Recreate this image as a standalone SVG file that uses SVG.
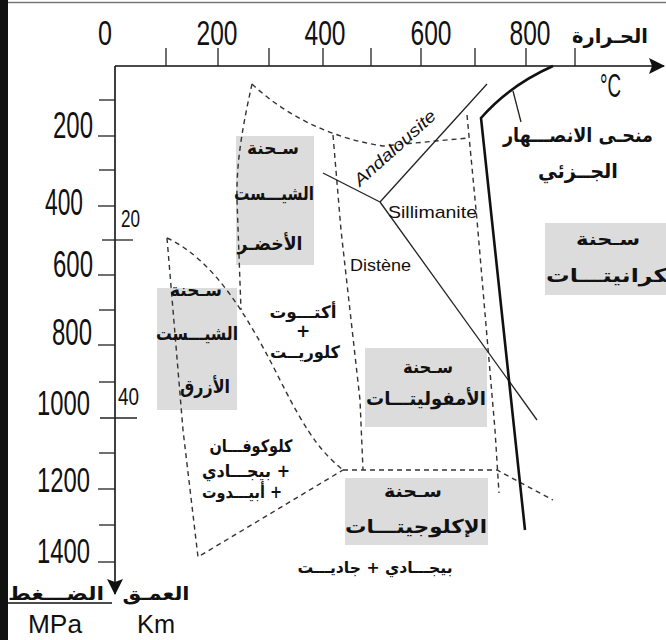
<svg xmlns="http://www.w3.org/2000/svg" width="666" height="640" viewBox="0 0 666 640">
  <style>
    .ax { stroke: #111; stroke-width: 1.6; fill: none; }
    .tick { stroke: #222; stroke-width: 1.3; }
    .dash { stroke: #333; stroke-width: 1.4; fill: none; stroke-dasharray: 5 4; }
    .solid { stroke: #222; stroke-width: 1.3; fill: none; }
    .box { fill: #dcdcdc; }
    .num { font-family: "Liberation Sans", Arial, sans-serif; fill: #111; }
    .lat { font-family: "Liberation Sans", Arial, sans-serif; fill: #111; }
    .ar { font-family: "DejaVu Sans", sans-serif; font-weight: bold; fill: #111; text-anchor: middle; }
  </style>
  <defs>
    <marker id="arrowR" markerWidth="16" markerHeight="16" refX="15" refY="8" orient="auto" markerUnits="userSpaceOnUse">
      <path d="M0,0 L16,8 L0,16 L3,8 Z" fill="#111"/>
    </marker>
  </defs>

  <!-- frame -->
  <rect x="0" y="0" width="8" height="640" fill="#111"/>
  <line x1="8" y1="2.5" x2="666" y2="2.5" stroke="#777" stroke-width="1.5"/>

  <!-- grey facies panels -->
  <g id="panels">
    <rect class="box" x="236" y="136" width="78" height="129"/>
    <rect class="box" x="157" y="288" width="80" height="122"/>
    <rect class="box" x="365" y="348" width="122" height="79"/>
    <rect class="box" x="345" y="478" width="143" height="67"/>
    <rect class="box" x="545" y="223" width="121" height="72"/>
  </g>

  <!-- axes -->
  <g id="axes">
    <line class="ax" x1="115" y1="66" x2="664" y2="66" marker-end="url(#arrowR)"/>
    <line class="ax" x1="115" y1="66" x2="115" y2="594" marker-end="url(#arrowR)"/>
    <!-- temperature ticks -->
    <g class="tick">
      <line x1="166" y1="48" x2="166" y2="66"/>
      <line x1="218" y1="48" x2="218" y2="66"/>
      <line x1="269" y1="48" x2="269" y2="66"/>
      <line x1="323" y1="48" x2="323" y2="66"/>
      <line x1="371" y1="48" x2="371" y2="66"/>
      <line x1="421" y1="48" x2="421" y2="66"/>
      <line x1="475" y1="48" x2="475" y2="66"/>
      <line x1="526" y1="48" x2="526" y2="66"/>
      <line x1="575" y1="48" x2="575" y2="66"/>
    </g>
    <!-- pressure ticks -->
    <g class="tick">
      <line x1="99" y1="100" x2="115" y2="100"/>
      <line x1="98" y1="136" x2="115" y2="136"/>
      <line x1="99" y1="170" x2="115" y2="170"/>
      <line x1="98" y1="206" x2="115" y2="206"/>
      <line x1="102" y1="240" x2="133" y2="240"/>
      <line x1="98" y1="275" x2="115" y2="275"/>
      <line x1="99" y1="310" x2="115" y2="310"/>
      <line x1="98" y1="345" x2="115" y2="345"/>
      <line x1="99" y1="382" x2="115" y2="382"/>
      <line x1="100" y1="418" x2="137" y2="418"/>
      <line x1="99" y1="453" x2="115" y2="453"/>
      <line x1="98" y1="489" x2="115" y2="489"/>
      <line x1="99" y1="525" x2="115" y2="525"/>
      <line x1="98" y1="562" x2="115" y2="562"/>
    </g>
    <line x1="8" y1="603" x2="112" y2="603" stroke="#111" stroke-width="1.3"/>
  </g>

  <!-- axis labels -->
  <g id="axis-labels">
    <text class="num" x="105" y="45" font-size="35" text-anchor="middle" textLength="14" lengthAdjust="spacingAndGlyphs">0</text>
    <text class="num" x="217" y="45" font-size="35" text-anchor="middle" textLength="41" lengthAdjust="spacingAndGlyphs">200</text>
    <text class="num" x="325" y="45" font-size="35" text-anchor="middle" textLength="41" lengthAdjust="spacingAndGlyphs">400</text>
    <text class="num" x="431" y="45" font-size="35" text-anchor="middle" textLength="41" lengthAdjust="spacingAndGlyphs">600</text>
    <text class="num" x="530" y="45" font-size="35" text-anchor="middle" textLength="41" lengthAdjust="spacingAndGlyphs">800</text>

    <text class="num" x="53" y="138" font-size="37" textLength="40" lengthAdjust="spacingAndGlyphs">200</text>
    <text class="num" x="45" y="215" font-size="37" textLength="38" lengthAdjust="spacingAndGlyphs">400</text>
    <text class="num" x="53" y="277" font-size="37" textLength="40" lengthAdjust="spacingAndGlyphs">600</text>
    <text class="num" x="52" y="345" font-size="37" textLength="40" lengthAdjust="spacingAndGlyphs">800</text>
    <text class="num" x="37" y="415" font-size="35" textLength="53" lengthAdjust="spacingAndGlyphs">1000</text>
    <text class="num" x="37" y="492" font-size="35" textLength="53" lengthAdjust="spacingAndGlyphs">1200</text>
    <text class="num" x="37" y="563" font-size="35" textLength="53" lengthAdjust="spacingAndGlyphs">1400</text>

    <text class="num" x="121" y="227" font-size="24" textLength="19" lengthAdjust="spacingAndGlyphs">20</text>
    <text class="num" x="118" y="405" font-size="24" textLength="21" lengthAdjust="spacingAndGlyphs">40</text>

    <text class="num" x="600" y="97" font-size="34" textLength="21" lengthAdjust="spacingAndGlyphs">°C</text>
    <text class="ar" x="610" y="43" font-size="20" textLength="76" lengthAdjust="spacingAndGlyphs">الحـرارة</text>

    <text class="ar" x="156" y="600" font-size="19" textLength="67" lengthAdjust="spacingAndGlyphs">العمـق</text>
    <text class="ar" x="56" y="600" font-size="19" textLength="96" lengthAdjust="spacingAndGlyphs">الضـــغط</text>
    <text class="lat" x="28" y="633" font-size="26" textLength="54" lengthAdjust="spacingAndGlyphs">MPa</text>
    <text class="lat" x="137" y="633" font-size="26" textLength="38" lengthAdjust="spacingAndGlyphs">Km</text>
  </g>

  <!-- facies boundaries and reaction curves -->
  <g id="connectors">
    <!-- blueschist field -->
    <path class="dash" d="M167,238 C215,260 250,320 280,380 S325,455 343,470"/>
    <path class="dash" d="M167,238 L183,430 L198,557 L343,470"/>
    <!-- greenschist field -->
    <path class="dash" d="M252,84 C244,120 236,160 237,200 L241,310"/>
    <path class="dash" d="M252,84 C285,115 330,138 383,146 L468,138"/>
    <!-- amphibolite field -->
    <path class="dash" d="M333,135 L341,230 L360,400 L363,470"/>
    <path class="dash" d="M467,115 L477,220 L495,430 L499,493"/>
    <path class="dash" d="M343,470 L497,470 L553,500"/>
    <!-- aluminosilicate triple point -->
    <line class="solid" x1="487" y1="84" x2="380" y2="202"/>
    <line class="solid" x1="323" y1="173" x2="380" y2="202"/>
    <line class="solid" x1="380" y1="202" x2="537" y2="420"/>
    <!-- partial melting curve -->
    <path d="M553,66 Q510,85 481,118 L525,530" stroke="#111" stroke-width="2.6" fill="none"/>
    <line class="solid" x1="513" y1="91" x2="521" y2="122"/>
  </g>

  <!-- mineral labels -->
  <g id="minerals">
    <text class="lat" x="0" y="0" font-size="17" font-style="italic" textLength="104" lengthAdjust="spacingAndGlyphs" transform="translate(360,187) rotate(-42)">Andalousite</text>
    <text class="lat" x="388" y="218" font-size="17" textLength="89" lengthAdjust="spacingAndGlyphs">Sillimanite</text>
    <text class="lat" x="350" y="271" font-size="17" textLength="61" lengthAdjust="spacingAndGlyphs">Distène</text>
  </g>

  <g id="melting-label">
    <text class="ar" x="578" y="142" font-size="20" textLength="150" lengthAdjust="spacingAndGlyphs">منحـى الانصـــهار</text>
    <text class="ar" x="578" y="178" font-size="20" textLength="80" lengthAdjust="spacingAndGlyphs">الجــزئي</text>
  </g>

  <g id="greenschist">
    <text class="ar" x="273" y="154" font-size="17" textLength="52" lengthAdjust="spacingAndGlyphs">سـحنة</text>
    <text class="ar" x="274" y="200" font-size="19" textLength="80" lengthAdjust="spacingAndGlyphs">الشيـــست</text>
    <text class="ar" x="270" y="250" font-size="19" textLength="65" lengthAdjust="spacingAndGlyphs">الأخضـر</text>
  </g>

  <g id="blueschist">
    <text class="ar" x="196" y="296" font-size="17" textLength="52" lengthAdjust="spacingAndGlyphs">سـحنة</text>
    <text class="ar" x="197" y="340" font-size="19" textLength="82" lengthAdjust="spacingAndGlyphs">الشيـــست</text>
    <text class="ar" x="205" y="393" font-size="19" textLength="50" lengthAdjust="spacingAndGlyphs">الأزرق</text>
  </g>

  <g id="actinote-chlorite">
    <text class="ar" x="303" y="318" font-size="17" textLength="67" lengthAdjust="spacingAndGlyphs">أكتـــوت</text>
    <text class="ar" x="303" y="337" font-size="17">+</text>
    <text class="ar" x="305" y="358" font-size="17" textLength="70" lengthAdjust="spacingAndGlyphs">كلوريــت</text>
  </g>

  <g id="glaucophane">
    <text class="ar" x="251" y="452" font-size="17" textLength="83" lengthAdjust="spacingAndGlyphs">كلوكوفـــان</text>
    <text class="ar" x="246" y="477" font-size="17" textLength="88" lengthAdjust="spacingAndGlyphs">بيجـــادي +</text>
    <text class="ar" x="242" y="498" font-size="17" textLength="80" lengthAdjust="spacingAndGlyphs">أبيـــدوت +</text>
  </g>

  <g id="amphibolite">
    <text class="ar" x="428" y="373" font-size="17" textLength="50" lengthAdjust="spacingAndGlyphs">سـحنة</text>
    <text class="ar" x="426" y="405" font-size="19" textLength="120" lengthAdjust="spacingAndGlyphs">الأمفوليتـــات</text>
  </g>

  <g id="eclogite">
    <text class="ar" x="413" y="497" font-size="17" textLength="58" lengthAdjust="spacingAndGlyphs">سـحنة</text>
    <text class="ar" x="416" y="533" font-size="19" textLength="142" lengthAdjust="spacingAndGlyphs">الإكلوجيتـــات</text>
    <text class="ar" x="375" y="573" font-size="16" textLength="155" lengthAdjust="spacingAndGlyphs">بيجـــادي + جاديـــت</text>
  </g>

  <g id="granite">
    <text class="ar" x="608" y="245" font-size="17" textLength="64" lengthAdjust="spacingAndGlyphs">سـحنة</text>
    <text class="ar" x="546" y="282" font-size="19" text-anchor="start" style="text-anchor:start" textLength="138" lengthAdjust="spacingAndGlyphs">الكرانيتـــات</text>
  </g>
</svg>
